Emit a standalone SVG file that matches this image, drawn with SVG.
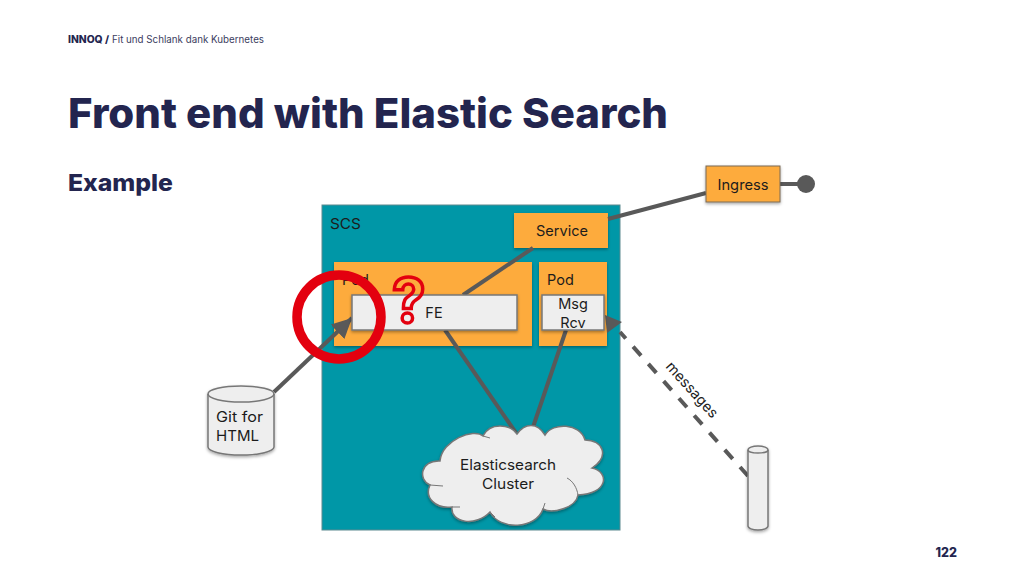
<svg xmlns="http://www.w3.org/2000/svg" width="1024" height="576" viewBox="0 0 1024 576">
<style>
text{font-family:"Inter","Liberation Sans",sans-serif;fill:#1c1c1c}
.h{fill:#23254f;font-weight:800}
.l{font-size:14.5px;text-anchor:middle}
.org{fill:#fdab3d;filter:url(#s)}
.gry{fill:#eeeeee;stroke:#777;stroke-width:1.5;filter:url(#s)}
.c{stroke:#595959;stroke-width:4;fill:none}
</style>
<defs>
<filter id="s" x="-20%" y="-20%" width="140%" height="140%"><feDropShadow dx="0" dy="1.5" stdDeviation="1.5" flood-color="#000" flood-opacity=".35"/></filter>
<marker id="a" markerUnits="userSpaceOnUse" markerWidth="22" markerHeight="22" refX="20" refY="10" orient="auto"><path d="M0 0L20 10L0 20Z" fill="#595959"/></marker>
</defs>
<rect width="1024" height="576" fill="#fff"/>
<g id="header">
<text x="68" y="43" class="h" font-size="10" textLength="41" lengthAdjust="spacingAndGlyphs">INNOQ /</text>
<text x="112" y="43" font-size="10" textLength="152" lengthAdjust="spacingAndGlyphs" style="fill:#3b3d5e">Fit und Schlank dank Kubernetes</text>
<text x="68" y="128" class="h" font-size="41" textLength="600" lengthAdjust="spacingAndGlyphs">Front end with Elastic Search</text>
<text x="68" y="191" class="h" font-size="23.5" textLength="105" lengthAdjust="spacingAndGlyphs">Example</text>
<text x="957" y="557" class="h" font-size="12.5" text-anchor="end">122</text>
</g>
<g id="scs"><rect x="322" y="205" width="298" height="325" fill="#0097a7" stroke="#5d8a90" stroke-width="1"/>
<text x="330" y="229" font-size="15" textLength="31" lengthAdjust="spacingAndGlyphs">SCS</text></g>
<g id="pod1"><rect x="334" y="262" width="198" height="84" class="org"/><text x="342" y="285" font-size="14.5">Pod</text></g>
<g id="pod2"><rect x="539" y="262" width="68" height="84" class="org"/><text x="547" y="285" font-size="14.5">Pod</text></g>
<g id="service"><rect x="514" y="213" width="94" height="35" class="org"/><text x="562" y="236" class="l" textLength="52" lengthAdjust="spacingAndGlyphs">Service</text></g>
<g id="connectors">
<path class="c" d="M608 219L706 193"/>
<path class="c" d="M780 184H800"/>
<path class="c" d="M533 248L463 295"/>
<path class="c" d="M445 330L516 433"/>
<path class="c" d="M566 330L532 430"/>
<path class="c" d="M274 392L352 318" marker-end="url(#a)"/>
<path class="c" stroke-dasharray="12 11" d="M748 476L620 332"/>
<path d="M605 315L622 322L607 333Z" fill="#595959"/>
</g>
<g id="fe"><rect x="352" y="295" width="165" height="35" class="gry"/><text x="434" y="318" class="l">FE</text></g>
<g id="msg"><rect x="542" y="295" width="62" height="35" class="gry"/><text x="573" y="309" class="l">Msg</text><text x="573" y="328" class="l">Rcv</text></g>
<g id="ingress"><rect x="706" y="166" width="74" height="36" class="org" stroke="#7a6a55"/><text x="743" y="190" class="l" textLength="51" lengthAdjust="spacingAndGlyphs">Ingress</text><circle cx="806" cy="184" r="9" fill="#595959"/></g>
<g id="git"><path d="M208 394A33 8 0 0 1 274 394V447A33 8 0 0 1 208 447Z" class="gry"/><path d="M208 394A33 8 0 0 0 274 394" fill="none" stroke="#777" stroke-width="1.5"/>
<text x="216" y="422" font-size="14.5" textLength="47" lengthAdjust="spacingAndGlyphs">Git for</text><text x="216" y="441" font-size="14.5" textLength="43" lengthAdjust="spacingAndGlyphs">HTML</text></g>
<g id="cluster"><path class="gry" d="M517 434C525 423 537 422 545 435C553 422 580 423 585 440C603 440 610 456 592 468C610 472 608 494 578 495C576 508 552 514 543 509C536 529 500 531 490 512C476 527 450 523 452 507C436 509 424 498 430 485C418 480 420 460 440 461C442 440 474 428 483 436C490 422 510 424 517 434Z"/>
<path d="M567 478C573 481 577 488 578 495M592 468L600 462M430 485L443 486M452 507L460 507M490 512L495 517M483 436L490 438M543 509L545 503" fill="none" stroke="#777" stroke-width="1"/>
<text x="508" y="470" class="l" textLength="96" lengthAdjust="spacingAndGlyphs">Elasticsearch</text><text x="508" y="489" class="l" textLength="52" lengthAdjust="spacingAndGlyphs">Cluster</text></g>
<g id="queue"><path d="M748 450A10 4 0 0 1 768 450V526A10 4 0 0 1 748 526Z" class="gry"/><path d="M748 450A10 3 0 0 0 768 450" fill="none" stroke="#777" stroke-width="1.5"/></g>
<text transform="translate(665 367) rotate(48)" font-size="14.5" textLength="70" lengthAdjust="spacingAndGlyphs">messages</text>
<g id="mark"><circle cx="339" cy="317" r="42" fill="none" stroke="#e3000f" stroke-width="9.5"/>
<text x="392" y="322" font-size="60" font-weight="700" style="fill:none;stroke:#e3000f;stroke-width:3.5">?</text></g>
</svg>
